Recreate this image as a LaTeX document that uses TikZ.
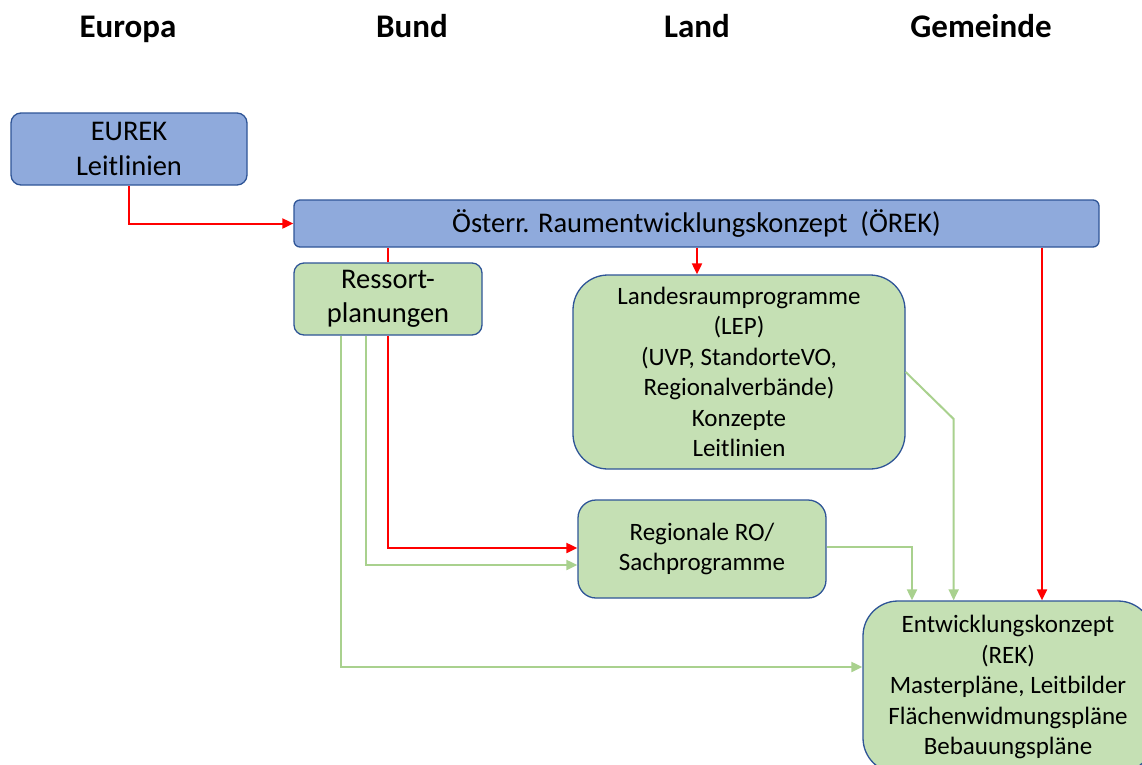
\documentclass[tikz,border=0pt]{standalone}
\usepackage{fontspec}
\setmainfont{Carlito}
\usetikzlibrary{arrows.meta,calc}
\definecolor{boxblue}{HTML}{8FAADC}
\definecolor{boxgreen}{HTML}{C5E0B4}
\definecolor{edgeblue}{HTML}{2F5597}
\definecolor{arrgreen}{HTML}{A9D18E}
\definecolor{arrred}{HTML}{FF0000}
\tikzset{
  box/.style={draw=edgeblue, line width=1.3pt, inner sep=0pt, align=center, text=black},
  bluebox/.style={box, fill=boxblue},
  greenbox/.style={box, fill=boxgreen},
  big/.style={font=\fontsize{28.5}{34.5}\selectfont},
  mid/.style={font=\fontsize{25}{30.5}\selectfont},
  head/.style={font=\fontsize{33}{40}\selectfont\bfseries, anchor=base},
  redline/.style={draw=arrred, line width=2pt},
  greenline/.style={draw=arrgreen, line width=2pt},
  tip/.style={-{Triangle[length=11pt,width=10pt]}},
}
\begin{document}
\begin{tikzpicture}[x=1pt,y=-1pt]
\clip (0,0) rectangle (1142,764);
\useasboundingbox (0,0) rectangle (1142,764);
\fill[white] (0,0) rectangle (1142,764);

% headers
\node[head] (h1) at (128,37) {Europa};
\node[head] (h2) at (412,37) {Bund};
\node[head] (h3) at (697,37) {Land};
\node[head] (h4) at (981,37) {Gemeinde};

% boxes
\node[bluebox, big, rounded corners=10pt, minimum width=236pt, minimum height=72pt] (eurek) at (129,149) {EUREK\\Leitlinien};
\node[bluebox, big, rounded corners=6pt, minimum width=805pt, minimum height=47pt] (orek) at (696.5,223.5) {Österr. Raumentwicklungskonzept\ \ (ÖREK)};
\node[greenbox, big, rounded corners=10pt, minimum width=188pt, minimum height=72pt] (ressort) at (388,299) {Ressort-\\planungen};
\node[greenbox, mid, rounded corners=35pt, minimum width=332pt, minimum height=194pt] (lep) at (739,372) {Landesraumprogramme\\(LEP)\\(UVP, StandorteVO,\\Regionalverbände)\\Konzepte\\Leitlinien};
\node[greenbox, mid, rounded corners=18pt, minimum width=248pt, minimum height=98pt] (reg) at (702,549) {Regionale RO/\\Sachprogramme};
\node[greenbox, mid, rounded corners=35pt, minimum width=290pt, minimum height=172pt] (rek) at (1008,687) {Entwicklungskonzept\\(REK)\\Masterpläne, Leitbilder\\Flächenwidmungspläne\\Bebauungspläne};

% helper coordinates
\coordinate (c1) at ($(lep.east)+(48,47)$);

% red connectors
\draw[redline, tip] (eurek.south) |- (orek.west);
\draw[redline] (ressort.north) -- (ressort.north |- orek.south);
\draw[redline, tip] (ressort.south) |- ([yshift=1pt]reg.west);
\draw[redline, tip] ([xshift=-42pt]lep.north |- orek.south) -- ([xshift=-42pt]lep.north);
\draw[redline, tip] ([xshift=34pt]rek.north |- orek.south) -- ([xshift=34pt]rek.north);

% green connectors
\draw[greenline, tip] ([xshift=-22pt]ressort.south) |- ([yshift=-16pt]reg.west);
\draw[greenline, tip] ([xshift=-47pt]ressort.south) |- ([yshift=20pt]rek.west);
\draw[greenline, tip] ([yshift=2pt]reg.east) -| ([xshift=-96pt]rek.north);
\draw[greenline, tip] (lep.east) -- (c1) -- (c1 |- rek.north);
\end{tikzpicture}
\end{document}
